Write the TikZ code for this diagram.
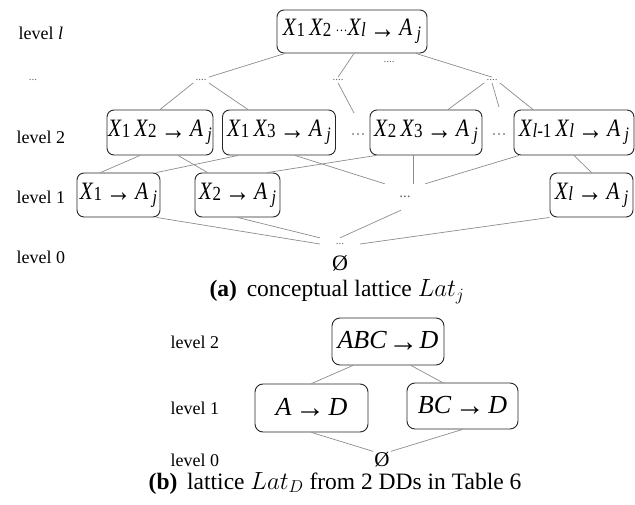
\documentclass[tikz,border=0pt]{standalone}
\usepackage{fontspec}
\setmainfont{Liberation Serif}
\newfontfamily\boxfont[FakeStretch=0.85]{Liberation Serif}
\usetikzlibrary{positioning}

% attribute with a small index, as X1
\newcommand{\att}[2]{\textit{#1}{\fontsize{20}{20}\selectfont\raisebox{-0.05em}{#2}}}
\newcommand{\arr}{{\fontsize{30}{30}\selectfont\kern-0.1em\raisebox{-0.08em}{→}\kern-0.1em}}
\newcommand{\aj}{\textit{A}\,{\fontsize{19}{19}\selectfont\raisebox{-0.2em}{\textit{j}}}}

\tikzset{
  lvl/.style={anchor=west, font=\fontsize{18}{20}\selectfont},
  lbox/.style={draw=black!85, line width=0.9pt, rounded corners=7, inner sep=0pt,
               minimum height=45, font=\boxfont\fontsize{25}{28}\selectfont},
  dbox/.style={draw=black!85, line width=0.9pt, rounded corners=8, inner sep=0pt,
               minimum height=47, font=\fontsize{26}{28}\selectfont},
  dots/.style={inner sep=2pt, text=black!60, font=\fontsize{11}{12}\selectfont},
  link/.style={draw=black!45, line width=0.7pt},
  captext/.style={font=\fontsize{23.5}{26}\selectfont},
}

\begin{document}
\begin{tikzpicture}[x=1pt, y=-1pt]
  \useasboundingbox (0,0) rectangle (635,505);

  % (a) conceptual lattice
  \node[lvl] at (15,33) {level \textit{l}};
  \node[dots] at (33,80) {...};
  \node[lvl] at (13,137) {level 2};
  \node[lvl] at (13,197) {level 1};
  \node[lvl] at (13,257) {level 0};

  \node[lbox, minimum width=150, minimum height=43] (top) at (352,31.5)
    {\att{X}{1}\,\att{X}{2}\,{\fontsize{14}{14}\selectfont···}\att{X}{\textit{l}}\;\arr\;\aj};

  \node[dots] (dL) at (201,80) {....};
  \node[dots] (dM) at (338,80) {....};
  \node[dots] (dR) at (492,80) {....};
  \node[dots] at (389,62) {....};
  \coordinate (m2) at (354,113);
  \coordinate (r2) at (499,107);

  \node[lbox, minimum width=106] (b12) at (160,132.5) {\att{X}{1}\,\att{X}{2}\;\arr\;\aj};
  \node[lbox, minimum width=113] (b13) at (279,132.5) {\att{X}{1}\,\att{X}{3}\;\arr\;\aj};
  \node[dots, font=\fontsize{15}{15}\selectfont] at (358,137) {···};
  \node[lbox, minimum width=112] (b23) at (426,132.5) {\att{X}{2}\,\att{X}{3}\;\arr\;\aj};
  \node[dots, font=\fontsize{15}{15}\selectfont] at (499,137) {···};
  \node[lbox, minimum width=120] (bl1l) at (574,132.5)
    {\att{X}{\textit{l}-1}\,\att{X}{\textit{l}}\;\arr\;\aj};

  \node[lbox, minimum width=83, minimum height=44] (a1) at (118.5,195) {\att{X}{1}\;\arr\;\aj};
  \node[lbox, minimum width=85, minimum height=44] (a2) at (237.5,195) {\att{X}{2}\;\arr\;\aj};
  \node[dots, minimum width=40, minimum height=26, font=\fontsize{15}{15}\selectfont] (d1) at (405,197) {...};
  \node[lbox, minimum width=83, minimum height=44] (al) at (591.5,195) {\att{X}{\textit{l}}\;\arr\;\aj};

  \node[dots, minimum width=40, minimum height=12] (d0) at (340,244) {...};
  \node[font=\fontsize{22}{22}\selectfont] at (340,263) {Ø};

  \draw[link] ([xshift=-67]top.south) -- (dL.north east);
  \draw[link] ([xshift=2]top.south) -- (dM.north);
  \draw[link] ([xshift=64]top.south) -- (dR.north);
  \draw[link] (dL.south west) -- (b12.north);
  \draw[link] (dL.south east) -- ([xshift=-31]b13.north);
  \draw[link] (dM.south) -- (m2);
  \draw[link] (dR.south west) -- ([xshift=22]b23.north);
  \draw[link] (dR.south) -- (r2);
  \draw[link] (dR.south east) -- ([xshift=-41]bl1l.north);

  \draw[link] ([xshift=-20]b12.south) -- ([xshift=-18]a1.north);
  \draw[link] ([xshift=18]b12.south) -- ([xshift=-30]a2.north);
  \draw[link] ([xshift=-41]b13.south) -- ([xshift=38]a1.north);
  \draw[link] ([xshift=16]b13.south) -- (d1.north west);
  \draw[link] ([xshift=-50]b23.south) -- ([xshift=30]a2.north);
  \draw[link] ([xshift=-13]b23.south) -- ([xshift=8]d1.north);
  \draw[link] ([xshift=-55]bl1l.south) -- (d1.north east);
  \draw[link] (bl1l.south) -- (al.north);

  \draw[link] ([xshift=38]a1.south) -- (d0.west);
  \draw[link] (a2.south) -- (d0.north west);
  \draw[link] ([xshift=-4]d1.south) -- (d0.north);
  \draw[link] ([xshift=-42]al.south) -- (d0.east);

  \node[captext] (capa) at (337,292)
    {\textbf{(a)}\, conceptual lattice $Lat_j$};

  % (b) lattice from 2 DDs
  \node[lvl] at (167,342) {level 2};
  \node[lvl] at (167,408) {level 1};
  \node[lvl] at (167,460) {level 0};

  \node[dbox, minimum width=112] (abc) at (388,341.5) {\textit{ABC}\,\arr\,\textit{D}};
  \node[dbox, minimum width=113, minimum height=48] (ad) at (311.5,408) {\textit{A} \arr{} \textit{D}};
  \node[dbox, minimum width=111, minimum height=46] (bcd) at (462.5,406) {\textit{BC} \arr{} \textit{D}};
  \node[inner sep=1pt, font=\fontsize{21}{21}\selectfont] (empty) at (382,460) {Ø};

  \draw[link] ([xshift=-35]abc.south) -- (ad.north);
  \draw[link] ([xshift=23]abc.south) -- ([xshift=-20]bcd.north);
  \draw[link] (ad.south) -- (empty.north west);
  \draw[link] (bcd.south) -- (empty.north east);

  \node[captext] (capb) at (335,483)
    {\textbf{(b)}\, lattice $Lat_D$ from 2 DDs in Table 6};
\end{tikzpicture}
\end{document}
